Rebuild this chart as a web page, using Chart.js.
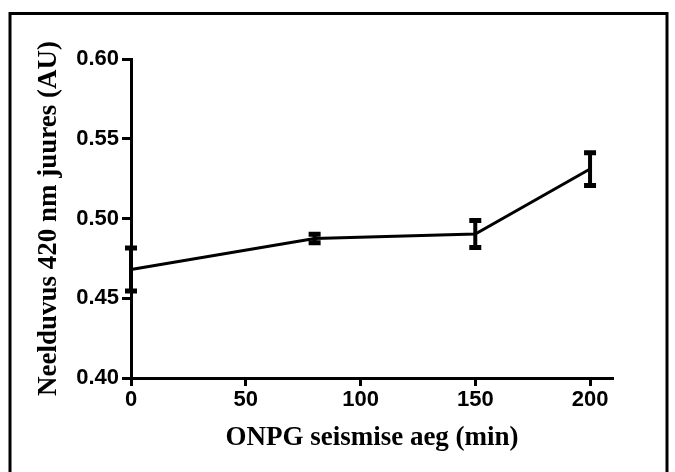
<!DOCTYPE html>
<html>
<head>
<meta charset="utf-8">
<script src="https://cdn.jsdelivr.net/npm/chart.js@4"></script>
<style>
  html, body { margin: 0; padding: 0; background: #fff; }
  #wrap { position: relative; width: 675px; height: 472px; }
</style>
</head>
<body>
<div id="wrap"><canvas id="chartCanvas" width="675" height="472"></canvas></div>
<script>
// reading times (min) and absorbance with SEM
const times = [0, 80, 150, 200];
const absorbance = [0.468, 0.4875, 0.4903, 0.531];
const errors = [0.0135, 0.0027, 0.0085, 0.0103];
const xTicks = [0, 50, 100, 150, 200];
const yTicks = [0.40, 0.45, 0.50, 0.55, 0.60];

// frame round the figure
const framePlugin = {
    id: 'frame',
    beforeDraw(chart) {
        const c = chart.ctx;
        c.save();
        c.fillStyle = '#fff';
        c.fillRect(0, 0, chart.width, chart.height);
        c.strokeStyle = '#000';
        c.lineWidth = 3;
        c.beginPath();
        c.moveTo(10, 480);
        c.lineTo(10, 13.5);
        c.lineTo(667, 13.5);
        c.lineTo(667, 480);
        c.stroke();
        c.restore();
    }
};

// error bars with caps
const errorBarPlugin = {
    id: 'errorBars',
    afterDatasetsDraw(chart) {
        const c = chart.ctx;
        const xs = chart.scales.x;
        const ys = chart.scales.y;
        c.save();
        c.strokeStyle = '#000';
        times.forEach((t, i) => {
            const x = xs.getPixelForValue(t);
            const top = ys.getPixelForValue(absorbance[i] + errors[i]);
            const bot = ys.getPixelForValue(absorbance[i] - errors[i]);
            c.lineWidth = 4;
            c.beginPath();
            c.moveTo(x, top);
            c.lineTo(x, bot);
            c.stroke();
            c.lineWidth = 5;
            c.beginPath();
            c.moveTo(x - 6, top);
            c.lineTo(x + 6, top);
            c.moveTo(x - 6, bot);
            c.lineTo(x + 6, bot);
            c.stroke();
        });
        c.restore();
    }
};

const tickFont = { family: 'Liberation Sans, Arial', size: 22, weight: 'bold' };
const titleFont = { family: 'Liberation Serif, Times New Roman', size: 27, weight: 'bold' };

const ctx = document.getElementById('chartCanvas').getContext('2d');
window.myChart = new Chart(ctx, {
    type: 'line',
    data: {
        datasets: [{
            data: times.map((t, i) => ({ x: t, y: absorbance[i] })),
            borderColor: '#000',
            borderWidth: 3,
            pointRadius: 0,
            fill: false,
            tension: 0
        }]
    },
    options: {
        responsive: false,
        animation: false,
        clip: false,
        layout: { padding: { top: 59, right: 62, left: 0, bottom: 0 } },
        plugins: { legend: { display: false }, tooltip: { enabled: false } },
        scales: {
            x: {
                type: 'linear',
                min: 0,
                max: 210,
                afterFit(scale) { scale.height = 94; },
                afterBuildTicks(scale) { scale.ticks = xTicks.map(v => ({ value: v })); },
                border: { display: true, color: '#000', width: 3 },
                grid: { drawOnChartArea: false, drawTicks: true, tickLength: 8, tickWidth: 3, tickColor: '#000' },
                ticks: { color: '#000', font: tickFont, padding: 1, maxRotation: 0 },
                title: { display: true, text: 'ONPG seismise aeg (min)', color: '#000', font: titleFont, padding: { top: 0, bottom: 18 } }
            },
            y: {
                type: 'linear',
                min: 0.40,
                max: 0.60,
                afterFit(scale) { scale.width = 131; },
                afterBuildTicks(scale) { scale.ticks = yTicks.map(v => ({ value: v })); },
                border: { display: true, color: '#000', width: 3 },
                grid: { drawOnChartArea: false, drawTicks: true, tickLength: 9, tickWidth: 3, tickColor: '#000' },
                ticks: { color: '#000', font: tickFont, padding: 3, callback: v => v.toFixed(2) },
                title: { display: true, text: 'Neelduvus 420 nm juures (AU)', color: '#000', font: titleFont, padding: { top: 33, bottom: 0 } }
            }
        }
    },
    plugins: [framePlugin, errorBarPlugin]
});
</script>
</body>
</html>
